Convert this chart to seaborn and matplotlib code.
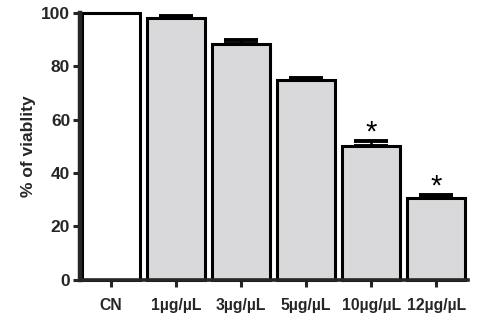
import matplotlib
matplotlib.use("Agg")
import matplotlib.pyplot as plt
import seaborn as sns
import numpy as np

categories = ["CN", "1µg/µL", "3µg/µL", "5µg/µL", "10µg/µL", "12µg/µL"]
viability = [100.0, 98.2, 88.3, 74.9, 50.3, 30.6]
sem = [0.0, 0.7, 1.6, 0.9, 1.7, 1.2]
significant = [False, False, False, False, True, True]
bar_colors = ["#ffffff", "#d9d9db", "#d9d9db", "#d9d9db", "#d9d9db", "#d9d9db"]

sns.set_style("ticks")
plt.rcParams["font.family"] = ["Liberation Sans", "DejaVu Sans"]
plt.rcParams["font.weight"] = "bold"

fig = plt.figure(figsize=(4.84, 3.32), dpi=100)
ax = fig.add_axes([0.165, 0.157, 0.802, 0.804])

sns.barplot(x=categories, y=viability, hue=categories, palette=bar_colors,
            legend=False, width=0.9, edgecolor="black", linewidth=2.2,
            ax=ax, zorder=2)
for p in ax.patches:
    p.set_clip_on(False)

xs = np.arange(len(categories))
vals = np.array(viability)
errs = np.array(sem)
mask = errs > 0
ax.errorbar(xs[mask], vals[mask], yerr=[np.zeros(mask.sum()), errs[mask]],
            fmt="none", ecolor="black", elinewidth=1.8, capsize=12,
            capthick=2.8, zorder=3, clip_on=False)

for x, v, e, s in zip(xs, vals, errs, significant):
    if s:
        ax.text(x, v + e + 0.2, "*", ha="center", va="baseline",
                fontsize=21, fontweight="normal", color="black")

ax.set_ylim(0, 100)
ax.set_xlim(-0.48, 5.49)
ax.set_yticks([0, 20, 40, 60, 80, 100])
ax.set_ylabel("% of viablity", fontsize=12.5, fontweight="bold", labelpad=4)
ax.set_xlabel("")

for side in ["top", "right"]:
    ax.spines[side].set_visible(False)
ax.spines["left"].set_linewidth(3.2)
ax.spines["bottom"].set_linewidth(2.6)
ax.tick_params(axis="y", labelsize=12.5, width=2.2, length=5, pad=2)
ax.tick_params(axis="x", labelsize=11.3, width=2.2, length=5, pad=8)
for lab in ax.get_xticklabels() + ax.get_yticklabels():
    lab.set_fontweight("bold")

fig.savefig("out.png", dpi=100)
